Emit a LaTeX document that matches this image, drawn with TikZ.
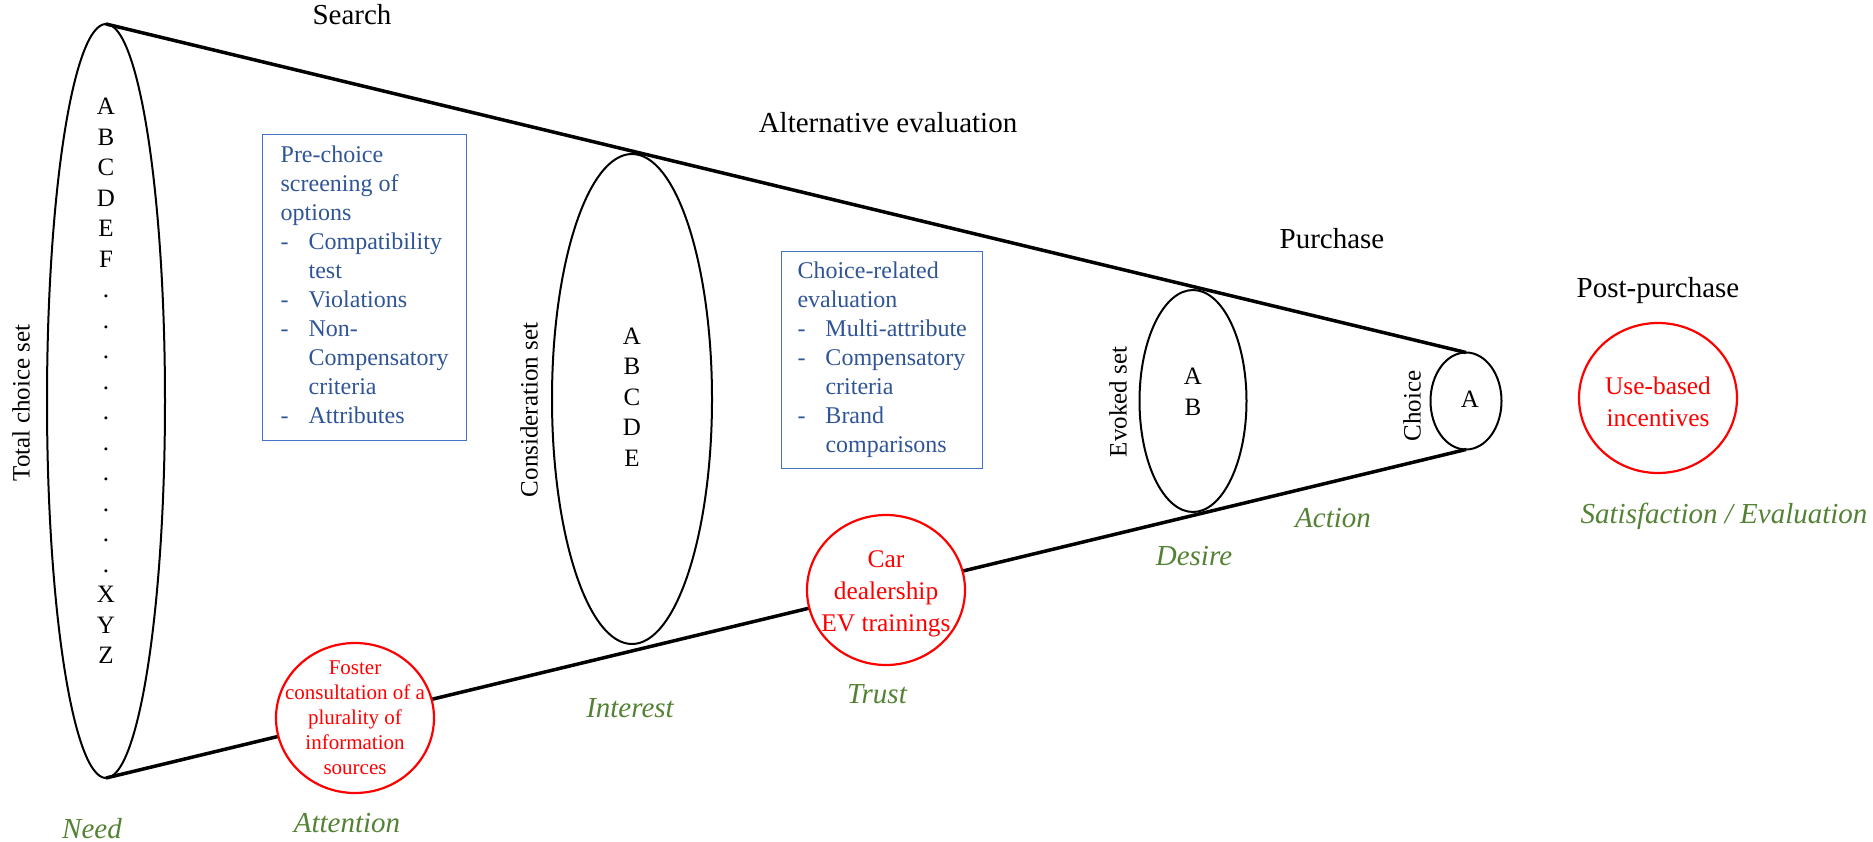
\documentclass[tikz,border=0pt]{standalone}
\usepackage{fontspec}
\setmainfont{Liberation Serif}
\usetikzlibrary{shapes.geometric}
\definecolor{myblue}{RGB}{47,85,151}
\definecolor{myframe}{RGB}{68,114,196}
\definecolor{mygreen}{RGB}{84,130,53}
\colorlet{myred}{red}
\newcommand{\fs}[2]{\fontsize{#1}{#2}\selectfont}

\begin{document}
\begin{tikzpicture}[x=1pt,y=-1pt]
\tikzset{SetStyle/.style ={ellipse,draw,line width=2pt,inner sep=0,outer sep=0}}
\tikzset{ConeStyle/.style ={line width=3.5pt}}
\tikzset{StageStyle/.style ={anchor=base,font=\fs{29}{34}}}
\tikzset{PhaseStyle/.style ={anchor=base,text=mygreen,font=\fs{29}{34}\itshape}}
\tikzset{SetLabel/.style ={rotate=90,inner sep=0,font=\fs{25}{30}}}
\tikzset{ItemStyle/.style ={align=center,inner sep=0,font=\fs{25}{30.5}}}
\tikzset{BoxStyle/.style ={draw=myframe,line width=1.3pt,text=myblue,anchor=north west,inner sep=0,font=\fs{24}{29}}}
\tikzset{IdeaStyle/.style ={ellipse,draw=myred,line width=2.2pt,fill=white,inner sep=0,
  minimum width=158,minimum height=150}}
\tikzset{IdeaText/.style ={text=myred,align=center,inner sep=0}}
\useasboundingbox (0,0) rectangle (1873,842);
% the sets
\node[SetStyle,minimum width=118,minimum height=754] (total) at (106,401) {};
\node[SetStyle,minimum width=160,minimum height=490] (consider) at (632,399) {};
\node[SetStyle,minimum width=107,minimum height=222] (evoked) at (1193,401) {};
\node[SetStyle,minimum width=71,minimum height=97] (choice) at (1466,401) {};
\draw[ConeStyle] (total.north) -- (choice.north);
\draw[ConeStyle] (total.south) -- (choice.south);
\node[ItemStyle] (totalitems) at (106,381) {A\\B\\C\\D\\E\\F\\.\\.\\.\\.\\.\\.\\.\\.\\.\\.\\X\\Y\\Z};
\node[ItemStyle] (consideritems) at (632,397) {A\\B\\C\\D\\E};
\node[ItemStyle,font=\fs{25}{31}] (evokeditems) at (1193,392) {A\\B};
\node[ItemStyle] (choiceitem) at (1470,399) {A};
\node[SetLabel] (totallabel) at (21,403) {Total choice set};
\node[SetLabel] (considerlabel) at (529,410) {Consideration set};
\node[SetLabel] (evokedlabel) at (1118,402) {Evoked set};
\node[SetLabel] (choicelabel) at (1412,406) {Choice};
% screening boxes
\node[BoxStyle,minimum width=204,minimum height=306] (prechoice) at (262,134) {%
\begin{tabular}{@{}p{28pt}@{}l@{}}
\multicolumn{2}{@{}l@{}}{Pre-choice}\\
\multicolumn{2}{@{}l@{}}{screening of}\\
\multicolumn{2}{@{}l@{}}{options}\\
-&Compatibility\\
&test\\
-&Violations\\
-&Non-\\
&Compensatory\\
&criteria\\
-&Attributes
\end{tabular}};
\node[BoxStyle,minimum width=201,minimum height=217] (choicerel) at (781,251) {%
\begin{tabular}{@{}p{28pt}@{}l@{}}
\multicolumn{2}{@{}l@{}}{Choice-related}\\
\multicolumn{2}{@{}l@{}}{evaluation}\\
-&Multi-attribute\\
-&Compensatory\\
&criteria\\
-&Brand\\
&comparisons
\end{tabular}};
% incentives
\node[IdeaStyle] (foster) at (355,718) {};
\node[IdeaText,font=\fs{21}{25}] (fostertext) at (foster) {Foster\\consultation of a\\plurality of\\information\\sources};
\node[IdeaStyle] (dealer) at (886,590) {};
\node[IdeaText,font=\fs{25.4}{32}] (dealertext) at ([yshift=-4]dealer) {Car\\dealership\\EV trainings};
\node[IdeaStyle] (usebased) at (1658,398) {};
\node[IdeaText,font=\fs{25.4}{32}] (usebasedtext) at ([yshift=-4]usebased) {Use-based\\incentives};
% stages
\node[StageStyle] (search) at (352,25) {Search};
\node[StageStyle] (alteval) at (888,133) {Alternative evaluation};
\node[StageStyle] (purchase) at (1332,249) {Purchase};
\node[StageStyle] (postpurch) at (1658,298) {Post-purchase};
\node[PhaseStyle] (need) at (92,838) {Need};
\node[PhaseStyle] (attention) at (347,832) {Attention};
\node[PhaseStyle] (interest) at (630,717) {Interest};
\node[PhaseStyle] (trust) at (877,703) {Trust};
\node[PhaseStyle] (desire) at (1194,565) {Desire};
\node[PhaseStyle] (action) at (1333,527) {Action};
\node[PhaseStyle] (satisf) at (1724,523) {Satisfaction / Evaluation};
\end{tikzpicture}
\end{document}
